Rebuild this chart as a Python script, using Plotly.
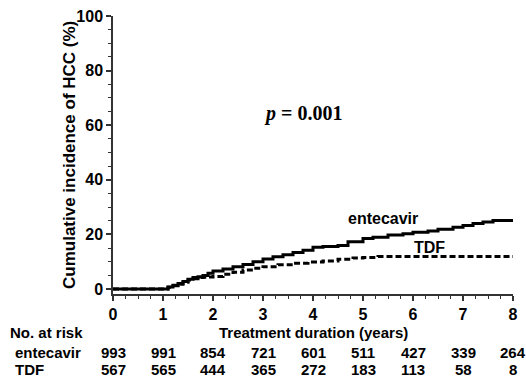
import plotly.graph_objects as go

# ---- data ----
ent_t = [0, 0.97, 1.1, 1.2, 1.3, 1.4, 1.5, 1.6, 1.7, 1.8, 1.9, 2.0, 2.2, 2.4, 2.6, 2.8, 3.0, 3.2, 3.4,
         3.6, 3.8, 4.0, 4.2, 4.5, 4.7, 5.0, 5.2, 5.5, 5.8, 6.0, 6.3, 6.5, 6.8, 7.0, 7.2, 7.4, 7.6, 8.0]
ent_v = [0, 0, 0.8, 1.4, 2.0, 2.8, 3.6, 4.2, 4.5, 5.0, 5.8, 6.6, 7.4, 8.2, 9.0, 10.0, 11.0, 11.8, 12.6,
         13.4, 14.2, 15.3, 15.6, 16.0, 17.3, 18.5, 19.0, 19.8, 20.3, 20.8, 21.3, 21.9, 22.6, 23.3, 24.0, 24.6, 25.1, 25.3]
tdf_t = [0, 0.97, 1.1, 1.2, 1.3, 1.4, 1.5, 1.6, 1.7, 1.8, 1.9, 2.0, 2.2, 2.4, 2.6, 2.8, 3.0, 3.3, 3.6,
         3.9, 4.2, 4.5, 4.8, 5.0, 5.3, 5.6, 8.0]
tdf_v = [0, 0, 0.7, 1.2, 1.8, 2.5, 3.3, 3.8, 4.2, 4.3, 4.4, 4.6, 5.4, 6.2, 7.0, 7.6, 8.2, 8.9, 9.5,
         9.9, 10.3, 10.9, 11.4, 11.6, 11.9, 11.9, 11.9]

risk_years = [0, 1, 2, 3, 4, 5, 6, 7, 8]
risk_ent = [993, 991, 854, 721, 601, 511, 427, 339, 264]
risk_tdf = [567, 565, 444, 365, 272, 183, 113, 58, 8]

x_ticks = [0, 1, 2, 3, 4, 5, 6, 7, 8]
y_ticks = [0, 20, 40, 60, 80, 100]

FONT = "Arial, Liberation Sans, sans-serif"

fig = go.Figure()
fig.add_trace(go.Scatter(x=tdf_t, y=tdf_v, mode="lines", line_shape="hv",
                         line=dict(color="black", width=3, dash="6px,3px"), showlegend=False))
fig.add_trace(go.Scatter(x=ent_t, y=ent_v, mode="lines", line_shape="hv",
                         line=dict(color="black", width=3), showlegend=False))


def txt(text, x, y, xref, yref, size=15, xanchor="center", family=FONT, angle=0):
    return dict(text=text, x=x, y=y, xref=xref, yref=yref, xanchor=xanchor, yanchor="middle",
                showarrow=False, textangle=angle,
                font=dict(family=family, size=size, color="black", weight="bold"))


ann = [
    txt("entecavir", 5.4, 26, "x", "y", size=16),
    txt("TDF", 6.32, 15.4, "x", "y", size=16),
    txt("<i>p</i> = 0.001", 3.8, 64.2, "x", "y", size=20,
        family="Liberation Serif, Times New Roman, serif"),
    txt("Cumulative incidence of HCC (%)", -0.11, 0.5, "paper", "paper", size=17, angle=-90),
    txt("Treatment duration (years)", 4.0, -0.14, "x", "paper", size=15),
    txt("No. at risk", -0.2625, -0.14, "paper", "paper", size=15, xanchor="left"),
    txt("entecavir", -0.25, -0.212, "paper", "paper", size=15, xanchor="left"),
    txt("TDF", -0.25, -0.27, "paper", "paper", size=15, xanchor="left"),
]
for yr, a, b in zip(risk_years, risk_ent, risk_tdf):
    ann.append(txt(str(a), yr, -0.212, "x", "paper", size=15))
    ann.append(txt(str(b), yr, -0.27, "x", "paper", size=15))

axis_common = dict(showline=True, linecolor="#333", linewidth=1.5, ticks="outside", ticklen=5,
                   tickwidth=1.5, tickcolor="#333", showgrid=False, zeroline=False, automargin=False,
                   ticklabeloverflow="allow",
                   tickfont=dict(family=FONT, size=16, color="black", weight="bold"))

fig.update_layout(
    width=526, height=381,
    margin=dict(l=113, r=13, t=16, b=87, autoexpand=False),
    paper_bgcolor="white", plot_bgcolor="white",
    xaxis=dict(range=[0, 8], tickvals=x_ticks, ticktext=[str(v) for v in x_ticks],
               minor=dict(dtick=0.25, ticks="outside", ticklen=3, tickwidth=1.2, tickcolor="#333"),
               **axis_common),
    yaxis=dict(range=[-1.8, 100], tickvals=y_ticks, ticktext=[str(v) for v in y_ticks],
               minor=dict(tickvals=list(range(5, 100, 5)), ticks="outside", ticklen=3, tickwidth=1.2,
                          tickcolor="#333"),
               **axis_common),
    annotations=ann,
)
# remove the default page margin so the 526x381 figure fills the window exactly
fig.write_html("out.html", config={"displayModeBar": False},
               post_script="document.body.style.margin='0';document.body.style.overflow='hidden';")
